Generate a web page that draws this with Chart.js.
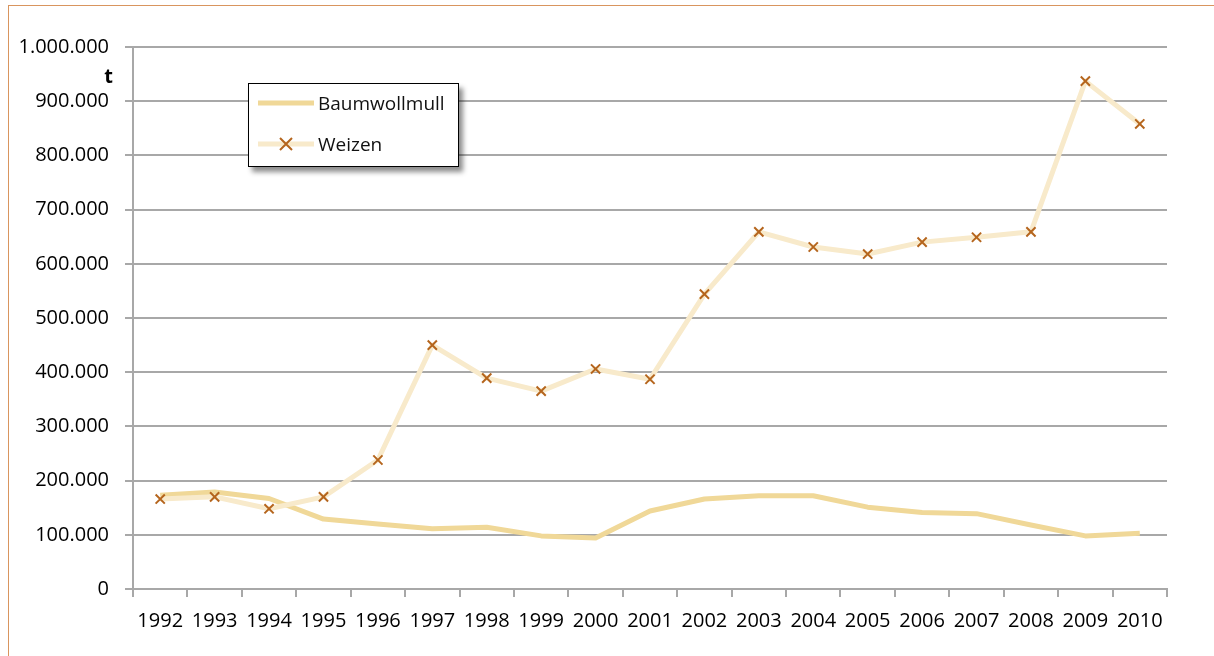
<!DOCTYPE html>
<html>
<head>
<meta charset="utf-8">
<script src="https://cdn.jsdelivr.net/npm/chart.js@4"></script>
<style>
  html, body { margin: 0; padding: 0; background: #fff; }
  #wrap { position: relative; width: 1214px; height: 656px; overflow: hidden; }
  #frame { position: absolute; left: 8px; top: 5px; width: 1220px; height: 670px;
           border-top: 1.5px solid #D9955E; border-left: 1.5px solid #D9955E; box-sizing: border-box; }
  #legend { position: absolute; left: 248px; top: 83px; width: 211px; height: 84px; box-sizing: border-box;
            border: 1.5px solid #000; background: #fff; box-shadow: 4px 5px 5px rgba(0,0,0,0.45);
            font-family: "Open Sans", sans-serif; font-size: 19px; color: #111; }
  .item { position: absolute; left: 9px; height: 24px; display: flex; align-items: center; }
  .item svg { margin-right: 4px; }
  canvas { position: absolute; left: 0; top: 0; }
</style>
</head>
<body>
<div id="wrap">
  <div id="frame"></div>
  <canvas id="c" width="1214" height="656"></canvas>
  <div id="legend">
    <div class="item" style="top:7px"><svg width="56" height="10"><line x1="0" y1="5" x2="56" y2="5" stroke="#F0D898" stroke-width="5"/></svg><span>Baumwollmull</span></div>
    <div class="item" style="top:48px"><svg width="56" height="14"><line x1="0" y1="7" x2="56" y2="7" stroke="#F8EACB" stroke-width="5"/><path d="M22,1 L34,13 M34,1 L22,13" stroke="#B5651D" stroke-width="2"/></svg><span>Weizen</span></div>
  </div>
</div>
<script>
const years = ['1992','1993','1994','1995','1996','1997','1998','1999','2000','2001','2002','2003','2004','2005','2006','2007','2008','2009','2010'];
const baumwollmull = [173000,179000,167000,129000,120000,111000,114000,98000,94000,144000,166000,172000,172000,151000,141000,139000,118000,98000,103000];
const weizen = [166000,170000,148000,170000,238000,450000,389000,365000,406000,387000,544000,659000,631000,618000,640000,649000,659000,937000,858000];
const yTicks = [0,100000,200000,300000,400000,500000,600000,700000,800000,900000,1000000];
const unitLabel = 't';

function fmt(v) { return String(v).replace(/\B(?=(\d{3})+(?!\d))/g, '.'); }

const unitPlugin = {
  id: 'unit',
  afterDraw(chart) {
    const y = chart.scales.y;
    const ctx = chart.ctx;
    ctx.save();
    ctx.font = 'bold 20px "Open Sans", sans-serif';
    ctx.fillStyle = '#000';
    ctx.textAlign = 'right';
    ctx.textBaseline = 'middle';
    ctx.fillText(unitLabel, 113, y.getPixelForValue(950000) + 3);
    ctx.restore();
  }
};

new Chart(document.getElementById('c'), {
  type: 'line',
  data: {
    labels: years,
    datasets: [
      { label: 'Baumwollmull', data: baumwollmull, borderColor: '#F0D898', borderWidth: 5,
        pointRadius: 0, tension: 0, order: 1, borderJoinStyle: 'round' },
      { label: 'Weizen', data: weizen, borderColor: '#F8EACB', borderWidth: 5, tension: 0, order: 0,
        pointStyle: 'crossRot', pointRadius: 6.5, pointBorderColor: '#B5651D', pointBorderWidth: 2,
        pointBackgroundColor: '#B5651D', borderJoinStyle: 'round' }
    ]
  },
  options: {
    responsive: false,
    animation: false,
    layout: { padding: { top: 47, right: 47, left: 0, bottom: 0 } },
    plugins: { legend: { display: false }, tooltip: { enabled: false } },
    scales: {
      x: {
        offset: true,
        grid: { offset: true, drawOnChartArea: false, drawTicks: true, tickLength: 8, color: '#A8A8A8', lineWidth: 2 },
        border: { display: true, color: '#A8A8A8', width: 2 },
        ticks: { autoSkip: false, maxRotation: 0, padding: 12, color: '#000', font: { family: '"Open Sans", sans-serif', size: 20 } },
        afterFit(s) { s.height = 67; }
      },
      y: {
        min: 0, max: 1000000,
        afterBuildTicks(s) { s.ticks = yTicks.map(v => ({ value: v })); },
        grid: { color: '#A8A8A8', lineWidth: 2, tickLength: 8, drawTicks: true },
        border: { display: true, color: '#A8A8A8', width: 2 },
        ticks: { padding: 16, color: '#000', font: { family: '"Open Sans", sans-serif', size: 20 },
                 callback: v => fmt(v) },
        afterFit(s) { s.width = 133; }
      }
    }
  },
  plugins: [unitPlugin]
});
</script>
</body>
</html>
